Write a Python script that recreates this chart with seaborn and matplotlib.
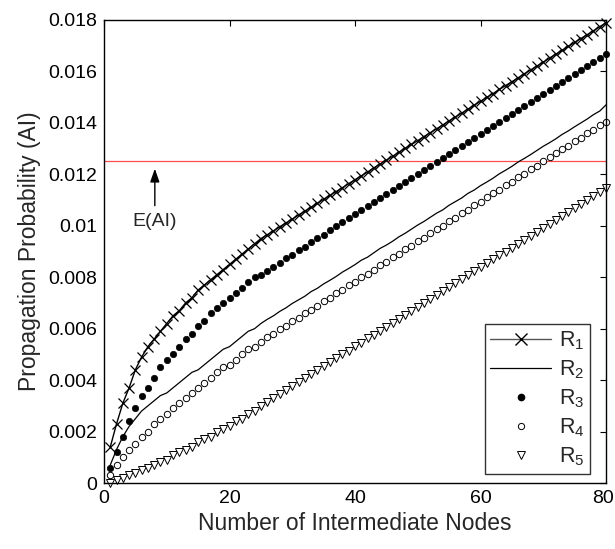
import matplotlib
matplotlib.use("Agg")
import matplotlib.pyplot as plt
import matplotlib.transforms as mtransforms
import seaborn as sns
import numpy as np
import pandas as pd
from matplotlib.lines import Line2D

nodes = list(range(1, 81))

r1 = [0.0014, 0.0023, 0.0031, 0.0037, 0.0044, 0.0049, 0.0053, 0.0056, 0.0059, 0.0062,
      0.0065, 0.0067, 0.0070, 0.0072, 0.0075, 0.0077, 0.0079, 0.0081, 0.0083, 0.0085,
      0.0087, 0.0089, 0.0091, 0.0093, 0.0095, 0.00965, 0.0098, 0.00996, 0.01011, 0.01026,
      0.01042, 0.01057, 0.01072, 0.01087, 0.01103, 0.01118, 0.01133, 0.01148, 0.01164, 0.01179,
      0.01194, 0.01209, 0.01225, 0.0124, 0.01255, 0.0127, 0.01286, 0.01301, 0.01316, 0.01331,
      0.01347, 0.01362, 0.01377, 0.01392, 0.01408, 0.01423, 0.01438, 0.01453, 0.01469, 0.01484,
      0.01499, 0.01514, 0.0153, 0.01545, 0.0156, 0.01575, 0.01591, 0.01606, 0.01621, 0.01636,
      0.01652, 0.01667, 0.01682, 0.01697, 0.01713, 0.01728, 0.01743, 0.01758, 0.01774, 0.01789]

r2 = [0.0007, 0.0013, 0.0018, 0.0022, 0.0025, 0.0028, 0.0030, 0.0032, 0.0034, 0.0035,
      0.0037, 0.0039, 0.0041, 0.0043, 0.0044, 0.0046, 0.0048, 0.0050, 0.0052, 0.0053,
      0.0055, 0.0057, 0.0059, 0.0060, 0.0062, 0.00636, 0.0065, 0.00667, 0.00681, 0.00698,
      0.00712, 0.00726, 0.00744, 0.00757, 0.00774, 0.00788, 0.00803, 0.0082, 0.00834, 0.00849,
      0.00866, 0.00878, 0.00895, 0.00912, 0.00925, 0.0094, 0.00957, 0.00971, 0.00987, 0.01003,
      0.01017, 0.01033, 0.01049, 0.01062, 0.0108, 0.01094, 0.01108, 0.01126, 0.01139, 0.01156,
      0.0117, 0.01185, 0.01202, 0.01216, 0.01231, 0.01248, 0.01262, 0.01277, 0.01293, 0.01309,
      0.01323, 0.01338, 0.01355, 0.01369, 0.01385, 0.014, 0.01415, 0.01432, 0.01446, 0.0147]

r3 = [0.0006, 0.0012, 0.0018, 0.0024, 0.0029, 0.0034, 0.0037, 0.0041, 0.0045, 0.0048,
      0.0050, 0.0053, 0.0056, 0.0058, 0.0061, 0.0063, 0.0066, 0.0068, 0.0070, 0.0072,
      0.0074, 0.0076, 0.0078, 0.0080, 0.0081, 0.00826, 0.00841, 0.00857, 0.00873, 0.00888,
      0.00904, 0.00919, 0.00935, 0.00951, 0.00966, 0.00982, 0.00998, 0.01013, 0.01029, 0.01044,
      0.0106, 0.01076, 0.01091, 0.01107, 0.01122, 0.01138, 0.01154, 0.01169, 0.01185, 0.01201,
      0.01216, 0.01232, 0.01247, 0.01263, 0.01279, 0.01294, 0.0131, 0.01325, 0.01341, 0.01357,
      0.01372, 0.01388, 0.01404, 0.01419, 0.01435, 0.0145, 0.01466, 0.01482, 0.01497, 0.01513,
      0.01528, 0.01544, 0.0156, 0.01575, 0.01591, 0.01607, 0.01622, 0.01638, 0.01653, 0.01669]

r4 = [0.0003, 0.0007, 0.0010, 0.0013, 0.0015, 0.0018, 0.0020, 0.0023, 0.0025, 0.0027,
      0.0029, 0.0031, 0.0033, 0.0035, 0.0037, 0.0039, 0.0041, 0.0043, 0.0045, 0.0046,
      0.0048, 0.0050, 0.0052, 0.0053, 0.0055, 0.00566, 0.00581, 0.00597, 0.00612, 0.00628,
      0.00643, 0.00659, 0.00674, 0.0069, 0.00706, 0.00721, 0.00737, 0.00752, 0.00768, 0.00783,
      0.00799, 0.00814, 0.0083, 0.00846, 0.00861, 0.00877, 0.00892, 0.00908, 0.00923, 0.00939,
      0.00954, 0.0097, 0.00986, 0.01001, 0.01017, 0.01032, 0.01048, 0.01063, 0.01079, 0.01094,
      0.0111, 0.01126, 0.01141, 0.01157, 0.01172, 0.01188, 0.01203, 0.01219, 0.01234, 0.0125,
      0.01266, 0.01281, 0.01297, 0.01312, 0.01328, 0.01343, 0.01359, 0.01374, 0.0139, 0.01405]

r5 = [0.0000, 0.0001, 0.0002, 0.0003, 0.0004, 0.0005, 0.0006, 0.0007, 0.0008, 0.0009,
      0.0011, 0.0012, 0.0013, 0.0014, 0.0016, 0.0017, 0.0018, 0.0020, 0.0021, 0.0022,
      0.0024, 0.0025, 0.0027, 0.0028, 0.0030, 0.00315, 0.00331, 0.00346, 0.00362, 0.00377,
      0.00392, 0.00408, 0.00423, 0.00438, 0.00454, 0.00469, 0.00485, 0.005, 0.00515, 0.00531,
      0.00546, 0.00562, 0.00577, 0.00592, 0.00608, 0.00623, 0.00638, 0.00654, 0.00669, 0.00685,
      0.007, 0.00715, 0.00731, 0.00746, 0.00762, 0.00777, 0.00792, 0.00808, 0.00823, 0.00838,
      0.00854, 0.00869, 0.00885, 0.009, 0.00915, 0.00931, 0.00946, 0.00962, 0.00977, 0.00992,
      0.01008, 0.01023, 0.01038, 0.01054, 0.01069, 0.01085, 0.011, 0.01115, 0.01131, 0.01146]

expected_ai = 0.0125
series_names = ["R1", "R2", "R3", "R4", "R5"]
legend_labels = [r"$\mathregular{R_1}$", r"$\mathregular{R_2}$", r"$\mathregular{R_3}$",
                 r"$\mathregular{R_4}$", r"$\mathregular{R_5}$"]
x_ticks = [0, 20, 40, 60, 80]
y_ticks = [0, 0.002, 0.004, 0.006, 0.008, 0.01, 0.012, 0.014, 0.016, 0.018]
y_tick_labels = ["0", "0.002", "0.004", "0.006", "0.008", "0.01", "0.012", "0.014", "0.016", "0.018"]

df = pd.DataFrame({
    "node": nodes * 5,
    "value": r1 + r2 + r3 + r4 + r5,
    "series": sum([[s] * 80 for s in series_names], []),
})

sns.set_style("white")
plt.rcParams["font.family"] = ["Liberation Sans", "DejaVu Sans"]
plt.rcParams["mathtext.fontset"] = "custom"
plt.rcParams["mathtext.rm"] = "Liberation Sans"

fig = plt.figure(figsize=(6.15, 5.49), dpi=100)
ax = fig.add_axes([104 / 615, 1 - 483 / 549, 502 / 615, 463 / 549])

d1 = df[df.series == "R1"]
d2 = df[df.series == "R2"]
d3 = df[df.series == "R3"]
d4 = df[df.series == "R4"]
d5 = df[df.series == "R5"]

sns.lineplot(data=d1, x="node", y="value", ax=ax, color="black", lw=1.0,
             marker="x", markersize=7, markeredgewidth=0.9, markeredgecolor="black",
             clip_on=False, legend=False)
sns.lineplot(data=d2, x="node", y="value", ax=ax, color="black", lw=0.9, legend=False)
sns.lineplot(data=d3, x="node", y="value", ax=ax, color="black", lw=0, linestyle="",
             marker="o", markersize=4.6, markerfacecolor="black", markeredgecolor="black",
             markeredgewidth=0.5, clip_on=False, legend=False)
sns.lineplot(data=d4, x="node", y="value", ax=ax, color="black", lw=0, linestyle="",
             marker="o", markersize=4.6, markerfacecolor="white", markeredgecolor="black",
             markeredgewidth=0.7, clip_on=False, legend=False)
sns.lineplot(data=d5, x="node", y="value", ax=ax, color="black", lw=0, linestyle="",
             marker="v", markersize=5.8, markerfacecolor="white", markeredgecolor="black",
             markeredgewidth=0.7, clip_on=False, legend=False)

ax.axhline(expected_ai, color="#ff4d4d", lw=0.9, zorder=1)
ax.annotate("", xy=(8.1, 0.01222), xytext=(8.1, 0.01078),
            arrowprops=dict(arrowstyle="-|>,head_length=0.8,head_width=0.28",
                            color="black", lw=1.0, shrinkA=0, shrinkB=0))
ax.text(8.1, 0.01015, "E(AI)", ha="center", va="center", fontsize=14)

ax.set_xlim(0, 80)
ax.set_ylim(0, 0.018)
ax.set_xticks(x_ticks)
ax.set_xticklabels([str(t) for t in x_ticks])
ax.set_yticks(y_ticks)
ax.set_yticklabels(y_tick_labels)
ax.tick_params(direction="in", length=4, width=0.8, top=True, right=True,
               labelsize=14, pad=5, colors="black")
for s in ax.spines.values():
    s.set_visible(True)
    s.set_color("black")
    s.set_linewidth(1.0)
ax.set_xlabel("Number of Intermediate Nodes", fontsize=16.5, labelpad=4)
ax.set_ylabel("Propagation Probability (AI)", fontsize=16.5, labelpad=5)

# nudge the last x tick label so it stays inside the canvas
last_lbl = ax.get_xticklabels()[-1]
last_lbl.set_transform(last_lbl.get_transform() +
                       mtransforms.ScaledTranslation(-3 / 100, 0, fig.dpi_scale_trans))

handles = [
    Line2D([], [], color="#555555", lw=1.0, marker="x", markersize=8, markeredgecolor="black"),
    Line2D([], [], color="black", lw=0.9),
    Line2D([], [], color="black", lw=0, marker="o", markersize=4.5, markerfacecolor="black"),
    Line2D([], [], color="black", lw=0, marker="o", markersize=4.5, markerfacecolor="white",
           markeredgewidth=0.7),
    Line2D([], [], color="black", lw=0, marker="v", markersize=5.5, markerfacecolor="white",
           markeredgewidth=0.7),
]
leg = ax.legend(handles, legend_labels, loc="lower left", bbox_to_anchor=(0.759, 0.02),
                fontsize=15.5, frameon=True, fancybox=False, edgecolor="black",
                handlelength=2.8, handletextpad=0.4, labelspacing=0.3, borderpad=0.25,
                numpoints=1, borderaxespad=0)
leg.get_frame().set_linewidth(1.0)

fig.savefig("out.png", dpi=100, facecolor="white")
